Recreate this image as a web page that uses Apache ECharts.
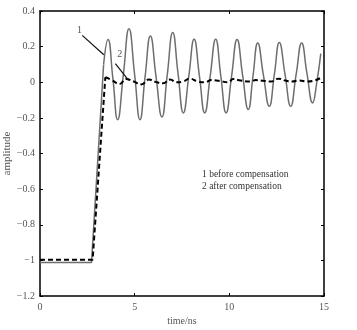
<!DOCTYPE html>
<html>
<head>
<meta charset="utf-8">
<script src="https://cdn.jsdelivr.net/npm/echarts@6/dist/echarts.min.js"></script>
<style>
  html, body { margin: 0; padding: 0; background: #fff; }
  #main { width: 357px; height: 330px; }
</style>
</head>
<body>
<div id="main"></div>
<script>
// curve 1, before compensation: step part and ringing part
var solidStep = [[0, -1.012], [2.72, -1.012], [3.36, 0.1]];
var solidWave = [
  [3.36, 0.1], [3.59, 0.24], [3.85, 0.02], [4.1, -0.21], [4.4, 0.04], [4.7, 0.30],
  [5.0, 0.04], [5.28, -0.21], [5.55, 0.03], [5.83, 0.26], [6.13, 0.03], [6.44, -0.195],
  [6.72, 0.04], [7.01, 0.279], [7.29, 0.05], [7.57, -0.172], [7.86, 0.035], [8.14, 0.242],
  [8.42, 0.035], [8.7, -0.172], [8.99, 0.035], [9.28, 0.242], [9.55, 0.035], [9.83, -0.172],
  [10.12, 0.035], [10.41, 0.24], [10.7, 0.04], [11.0, -0.153], [11.25, 0.035], [11.5, 0.221],
  [11.8, 0.04], [12.11, -0.135], [12.38, 0.045], [12.64, 0.223], [12.94, 0.045], [13.24, -0.135],
  [13.53, 0.045], [13.82, 0.221], [14.1, 0.05], [14.4, -0.116], [14.62, 0.0], [14.83, 0.161]
];
// curve 2, after compensation
var dashStep = [[0, -0.997], [2.78, -0.997], [3.45, 0.028]];
var dashWave = [
  [3.45, 0.028], [3.8, 0.012], [4.2, -0.01], [4.55, 0.018], [4.95, 0.004], [5.35, -0.012],
  [5.75, 0.015], [6.1, 0.002], [6.5, -0.006], [6.87, 0.015], [7.22, 0.0], [7.55, 0.004],
  [7.92, 0.02], [8.3, 0.006], [8.72, 0.0], [9.05, 0.012], [9.45, 0.008], [9.95, 0.0],
  [10.2, 0.018], [10.6, 0.01], [11.1, 0.004], [11.4, 0.012], [11.8, 0.008], [12.2, 0.004],
  [12.6, 0.02], [12.95, 0.01], [13.3, 0.004], [13.7, 0.01], [14.1, 0.004], [14.5, 0.01], [14.83, 0.025]
];
var xTicks = [0, 5, 10, 15];
var yTicks = [-1.2, -1, -0.8, -0.6, -0.4, -0.2, 0, 0.2, 0.4];
var arrow1 = [[2.23, 0.263], [3.37, 0.154]];
var arrow2 = [[3.98, 0.104], [4.68, 0.01]];
var label1 = [2.09, 0.291];
var label2 = [4.21, 0.154];
var noteLines = ['1 before compensation', '2 after compensation'];

var chart = echarts.init(document.getElementById('main'));
var serif = '"Liberation Serif", "DejaVu Serif", serif';
function boxAxis() {
  return {
    axisLine: { onZero: false, lineStyle: { color: '#000', width: 1.5 } },
    axisTick: { inside: true, length: 3, lineStyle: { color: '#000' } },
    splitLine: { show: false }
  };
}
function fmt(v) {
  var s = String(+v.toFixed(1));
  return s.replace('-', '\u2212');
}
var solidStyle = { color: '#6e6e6e', width: 1.5 };
var dashStyle = { color: '#000', width: 2, type: [5, 3] };

chart.setOption({
  animation: false,
  backgroundColor: '#fff',
  grid: { left: 40, right: 33, top: 11, bottom: 34, outerBoundsMode: 'none' },
  xAxis: [
    Object.assign({
      type: 'value', min: xTicks[0], max: xTicks[xTicks.length - 1], interval: 5,
      position: 'bottom',
      axisLabel: { color: '#555', fontFamily: serif, fontSize: 10, margin: 6 },
      name: 'time/ns', nameLocation: 'middle', nameGap: 20, nameMoveOverlap: false,
      nameTextStyle: { color: '#555', fontFamily: serif, fontSize: 10 }
    }, boxAxis()),
    Object.assign({
      type: 'value', min: 0, max: 15, interval: 5, position: 'top',
      axisLabel: { show: false }
    }, boxAxis())
  ],
  yAxis: [
    Object.assign({
      type: 'value', min: yTicks[0], max: yTicks[yTicks.length - 1], interval: 0.2,
      position: 'left',
      axisLabel: { color: '#555', fontFamily: serif, fontSize: 10, margin: 5, formatter: fmt },
      name: 'amplitude', nameLocation: 'middle', nameGap: 27, nameRotate: 90, nameMoveOverlap: false,
      nameTextStyle: { color: '#555', fontFamily: serif, fontSize: 11 }
    }, boxAxis()),
    Object.assign({
      type: 'value', min: -1.2, max: 0.4, interval: 0.2, position: 'right',
      axisLabel: { show: false }
    }, boxAxis())
  ],
  series: [
    { type: 'line', data: solidStep, showSymbol: false, lineStyle: solidStyle, z: 2 },
    {
      type: 'line', data: solidWave, smooth: 0.5, showSymbol: false, lineStyle: solidStyle, z: 2,
      markLine: {
        silent: true, symbol: ['none', 'arrow'], symbolSize: [0, 8],
        label: { show: false },
        lineStyle: { color: '#111', width: 1.2, type: 'solid' },
        data: [
          [{ coord: arrow1[0] }, { coord: arrow1[1] }],
          [{ coord: arrow2[0] }, { coord: arrow2[1] }]
        ]
      },
      markPoint: {
        silent: true, symbol: 'circle', symbolSize: 0,
        label: { show: true, position: 'inside', color: '#555', fontFamily: serif, fontSize: 10 },
        data: [
          { coord: label1, label: { formatter: '1' } },
          { coord: label2, label: { formatter: '2' } }
        ]
      }
    },
    { type: 'line', data: dashStep, showSymbol: false, lineStyle: dashStyle, z: 3 },
    { type: 'line', data: dashWave, smooth: 0.5, showSymbol: false, lineStyle: dashStyle, z: 3 }
  ],
  graphic: [
    {
      type: 'text', left: 202, top: 168,
      style: { text: noteLines.join('\n'), font: '9.5px ' + serif, fill: '#333', lineHeight: 12 }
    }
  ]
});
</script>
</body>
</html>
